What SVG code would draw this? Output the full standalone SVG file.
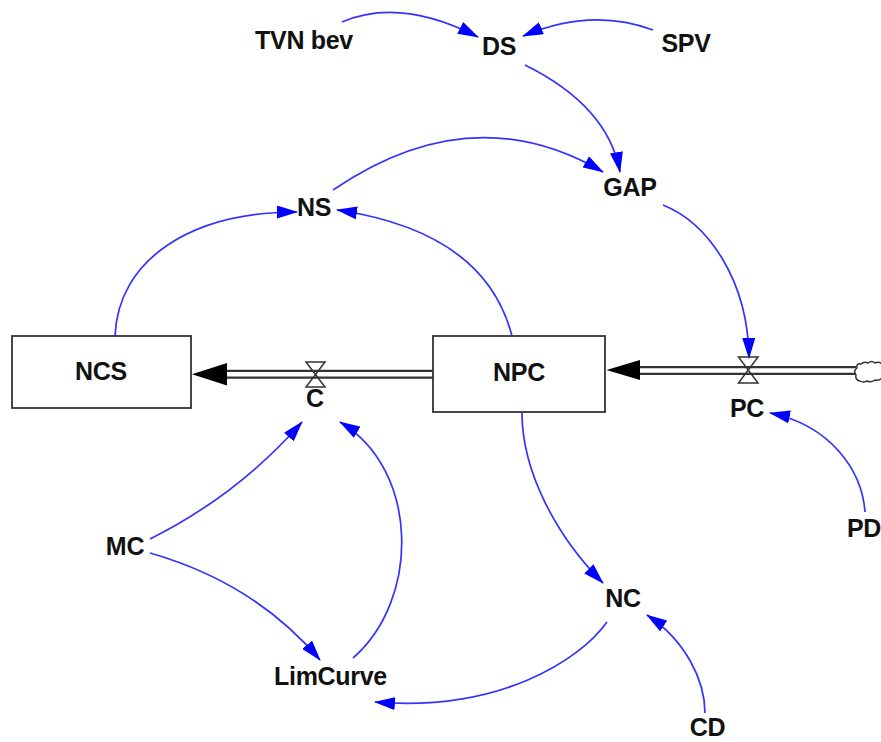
<svg xmlns="http://www.w3.org/2000/svg" width="881" height="742" viewBox="0 0 881 742">
<defs>
<style>
.lbl{font-family:"Liberation Sans",Arial,sans-serif;font-weight:bold;font-size:25px;fill:#111;text-anchor:middle;letter-spacing:-0.3px}
.box{fill:#fff;stroke:#333;stroke-width:1.8}
.link{fill:none;stroke:#3333ff;stroke-width:1.7;marker-end:url(#ah)}
.pipeo{stroke:#333;stroke-width:9;fill:none}
.pipei{stroke:#fff;stroke-width:4.5;fill:none}
.valve{fill:none;stroke:#333;stroke-width:1.5;stroke-linejoin:miter}
.flowhead{fill:#000}
</style>
<marker id="ah" viewBox="0 0 21 13" refX="20" refY="6.5" markerWidth="21" markerHeight="13" orient="auto" markerUnits="userSpaceOnUse">
<path d="M0,0 L21,6.5 L0,13 Z" fill="#0000ff"/>
</marker>
</defs>
<rect width="881" height="742" fill="#fff"/>

<g id="connectors">
<path class="link" d="M342,22 Q400,-3 478,37"/>
<path class="link" d="M653,30 Q592,7 523,36"/>
<path class="link" d="M525,65 Q608,106 620,172"/>
<path class="link" d="M333,190 Q472,95 603,172"/>
<path class="link" d="M115,336 C118,260 190,212 297,212"/>
<path class="link" d="M512,336 C495,270 440,225 337,210"/>
<path class="link" d="M663,205 C708,223 748,280 749,358"/>
<path class="link" d="M865,512 C862,470 830,425 770,413"/>
<path class="link" d="M150,539 Q238,495 302,422"/>
<path class="link" d="M150,553 Q255,583 320,660"/>
<path class="link" d="M353,658 C420,600 420,470 340,422"/>
<path class="link" d="M607,622 C580,660 500,712 375,702"/>
<path class="link" d="M522,413 C522,470 555,535 603,583"/>
<path class="link" d="M705,713 C705,680 685,640 647,615"/>
</g>

<g id="flow-C">
<path class="pipeo" d="M225,374.3 H434"/>
<path class="pipei" d="M225,374.3 H434"/>
<path class="flowhead" d="M192,374.3 L227,363 L227,385.5 Z"/>
<path class="valve" d="M306,362 H325 L306,387 H325 Z"/>
</g>

<g id="flow-PC">
<path class="pipeo" d="M638,370.5 H856"/>
<path class="pipei" d="M638,370.5 H856"/>
<path class="flowhead" d="M606.5,370 L640,360 L640,380 Z"/>
<path class="valve" d="M738.5,357 H758 L738.5,383 H758 Z"/>
</g>

<g id="cloud">
<path d="M857,368 q-4,3 -1,7 q-1,5 4,6 q3,2 7,0 q4,2 8,-1 q4,1 7,-2 v-14 q-3,-3 -7,-1 q-3,-3 -7,0 q-4,-2 -7,1 q-5,-1 -4,4 Z" fill="#fff" stroke="#333" stroke-width="1.5"/>
</g>

<g id="node-NCS">
<rect class="box" x="12" y="336" width="179" height="72"/>
<text class="lbl" x="101" y="380">NCS</text>
</g>
<g id="node-NPC">
<rect class="box" x="433" y="336" width="172" height="76"/>
<text class="lbl" x="519" y="381">NPC</text>
</g>
<g id="node-C"><text class="lbl" x="315" y="407">C</text></g>
<g id="node-PC"><text class="lbl" x="747" y="417">PC</text></g>
<g id="node-TVNbev"><text class="lbl" x="304" y="49">TVN bev</text></g>
<g id="node-DS"><text class="lbl" x="499" y="55">DS</text></g>
<g id="node-SPV"><text class="lbl" x="686" y="52">SPV</text></g>
<g id="node-GAP"><text class="lbl" x="630" y="196">GAP</text></g>
<g id="node-NS"><text class="lbl" x="314" y="216">NS</text></g>
<g id="node-PD"><text class="lbl" x="864" y="537">PD</text></g>
<g id="node-MC"><text class="lbl" x="125" y="555">MC</text></g>
<g id="node-LimCurve"><text class="lbl" x="330.5" y="685">LimCurve</text></g>
<g id="node-NC"><text class="lbl" x="623" y="607">NC</text></g>
<g id="node-CD"><text class="lbl" x="707.5" y="736">CD</text></g>
</svg>
